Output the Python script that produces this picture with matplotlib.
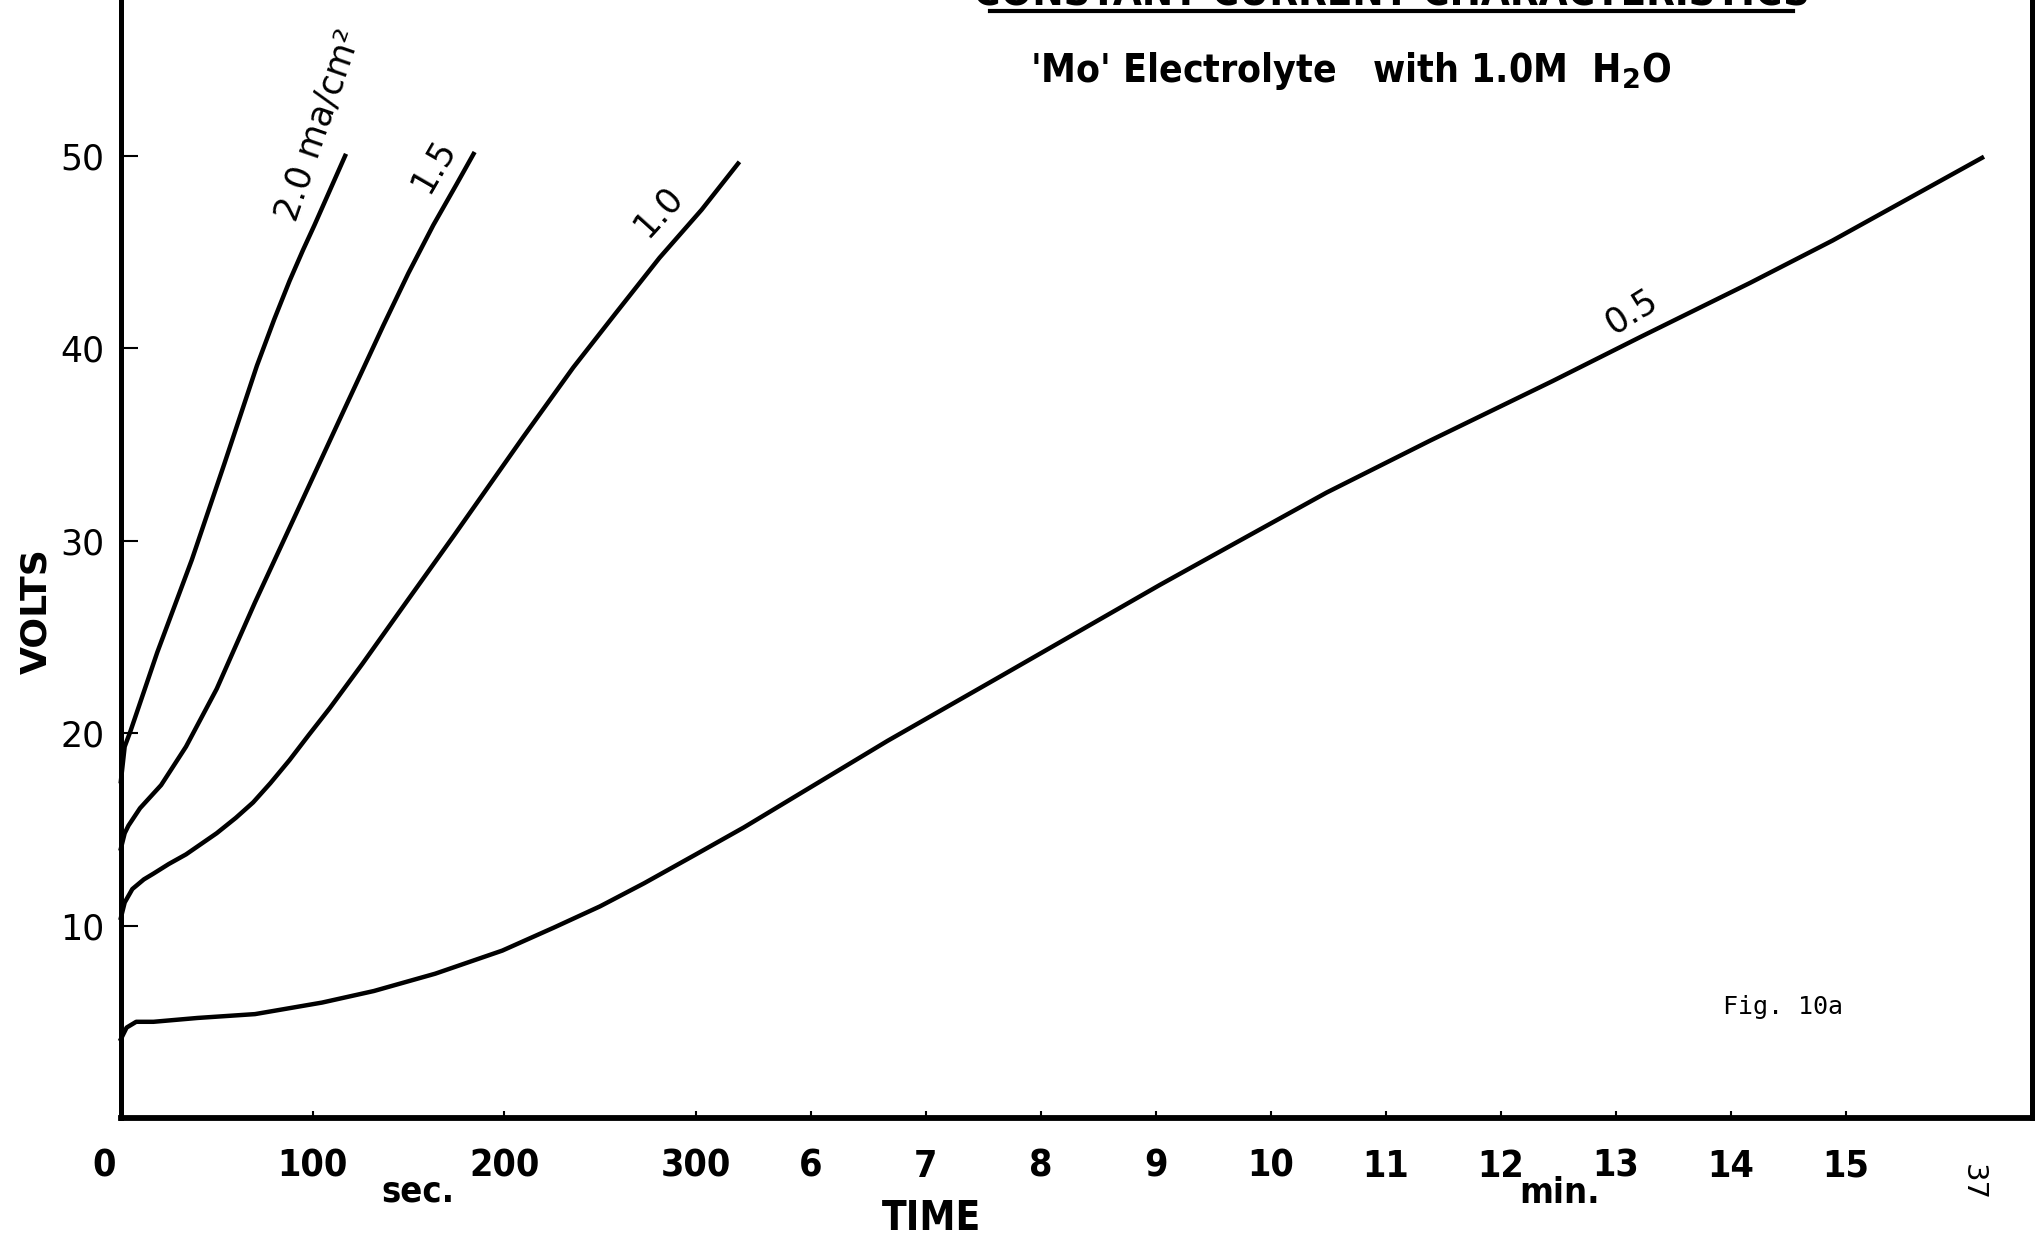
import numpy as np
import matplotlib
matplotlib.use("Agg")
import matplotlib.pyplot as plt
from matplotlib.transforms import ScaledTranslation

# narrow bold lettering for the axis numbers and headings
NARROW = dict(family='DejaVu Sans', fontstretch='condensed', fontweight='bold')

plt.rcParams['mathtext.fontset'] = 'custom'
plt.rcParams['mathtext.rm'] = 'DejaVu Sans:bold'
plt.rcParams['mathtext.default'] = 'rm'

# time in seconds, volts -- one curve per current density (ma/cm2)
t_20 = [0, 2, 5, 19, 37, 54, 71, 80, 88, 95, 101, 109, 117]
v_20 = [17.5, 19.3, 20.1, 24.2, 29.0, 34.0, 39.1, 41.5, 43.5, 45.1, 46.4, 48.2, 50.0]

t_15 = [0, 2, 4, 10, 21, 34, 50, 70, 90, 116, 137, 150, 163, 175, 184]
v_15 = [14.0, 14.8, 15.2, 16.1, 17.3, 19.3, 22.3, 26.8, 31.1, 36.7, 41.2, 43.9, 46.4,
        48.5, 50.1]

t_10 = [0, 2, 6, 12, 17, 25, 34, 50, 60, 69, 78, 88, 98, 109, 126, 146, 174, 210, 236,
        258, 281, 303, 322]
v_10 = [10.4, 11.2, 11.9, 12.4, 12.7, 13.2, 13.7, 14.8, 15.6, 16.4, 17.4, 18.6, 19.9,
        21.3, 23.6, 26.4, 30.3, 35.4, 39.0, 41.8, 44.7, 47.2, 49.6]

t_05 = [0, 3, 8, 17, 40, 70, 105, 132, 164, 199, 226, 250, 273, 300, 325, 360, 400, 458,
        500, 542, 580, 629, 683, 747, 793, 850, 893, 971]
v_05 = [4.1, 4.7, 5.0, 5.0, 5.2, 5.4, 6.0, 6.6, 7.5, 8.7, 9.9, 11.0, 12.2, 13.7, 15.1,
        17.2, 19.6, 22.9, 25.3, 27.7, 29.8, 32.5, 35.2, 38.3, 40.6, 43.4, 45.6, 49.9]

# axis ticks: seconds up to 300, then whole minutes
x_ticks = [0, 100, 200, 300, 360, 420, 480, 540, 600, 660, 720, 780, 840, 900]
x_labels = ['0', '100', '200', '300', '6', '7', '8', '9', '10', '11', '12', '13', '14', '15']
y_ticks = [10, 20, 30, 40, 50]

fig = plt.figure(figsize=(20.38, 12.41), dpi=100)
ax = fig.add_axes([0.0593, 0.0991, 0.9377, 0.9009])

for t, v in [(t_20, v_20), (t_15, v_15), (t_10, v_10), (t_05, v_05)]:
    ax.plot(t, v, color='black', lw=3.2, solid_joinstyle='round', clip_on=False)

ax.set_xlim(0, 997)
ax.set_ylim(0, 58.1)

ax.spines['top'].set_visible(False)
ax.spines['left'].set_linewidth(3.6)
ax.spines['bottom'].set_linewidth(4.2)
ax.spines['right'].set_linewidth(3.6)

ax.set_xticks(x_ticks)
ax.set_xticklabels(x_labels, fontsize=27, **NARROW)
ax.set_yticks(y_ticks)
ax.set_yticklabels([str(v) for v in y_ticks], fontsize=25)
ax.tick_params(axis='x', direction='in', length=5, width=1.5, pad=22)
ax.tick_params(axis='y', direction='in', length=12, width=1.5, pad=12)

# the hand-lettered zero sits left of the axis
lab0 = ax.get_xticklabels()[0]
lab0.set_transform(lab0.get_transform() + ScaledTranslation(-17 / 100, 0, fig.dpi_scale_trans))

# curve labels
ax.text(103, 51.6, '2.0 ma/cm²', rotation=71, rotation_mode='anchor',
        ha='center', va='center', fontsize=25)
ax.text(163, 49.5, '1.5', rotation=60, rotation_mode='anchor',
        ha='center', va='center', fontsize=25)
ax.text(280, 47.1, '1.0', rotation=48, rotation_mode='anchor',
        ha='center', va='center', fontsize=25)
ax.text(788, 41.9, '0.5', rotation=32, rotation_mode='anchor',
        ha='center', va='center', fontsize=25)

# axis titles and units
fig.text(36 / 2038, 1 - 611 / 1241, 'VOLTS', rotation=90, ha='center', va='center',
         fontsize=26, fontweight='bold')
fig.text(931 / 2038, 1 - 1219 / 1241, 'TIME', ha='center', va='center',
         fontsize=29, **NARROW)
fig.text(418 / 2038, 1 - 1192 / 1241, 'sec.', ha='center', va='center',
         fontsize=26, **NARROW)
fig.text(1560 / 2038, 1 - 1193 / 1241, 'min.', ha='center', va='center',
         fontsize=26, **NARROW)

# heading (its top line runs off the sheet)
fig.text(0.683, 1 - 5 / 1241, 'CONSTANT CURRENT CHARACTERISTICS', ha='center',
         va='baseline', fontsize=30, **NARROW)
fig.add_artist(plt.Line2D([0.486, 0.880], [1 - 11 / 1241] * 2, color='black', lw=3))
fig.text(0.6625, 1 - 71 / 1241, "'Mo' Electrolyte   with 1.0M  H$_2$O", ha='center',
         va='center', fontsize=28, **NARROW)

fig.text(1783 / 2038, 1 - 1007 / 1241, 'Fig. 10a', ha='center', va='center',
         fontsize=18, family='DejaVu Sans Mono')
fig.text(1973 / 2038, 1 - 1183 / 1241, '37', rotation=-90, ha='center', va='center',
         fontsize=21)

fig.savefig('out.png', dpi=100)
